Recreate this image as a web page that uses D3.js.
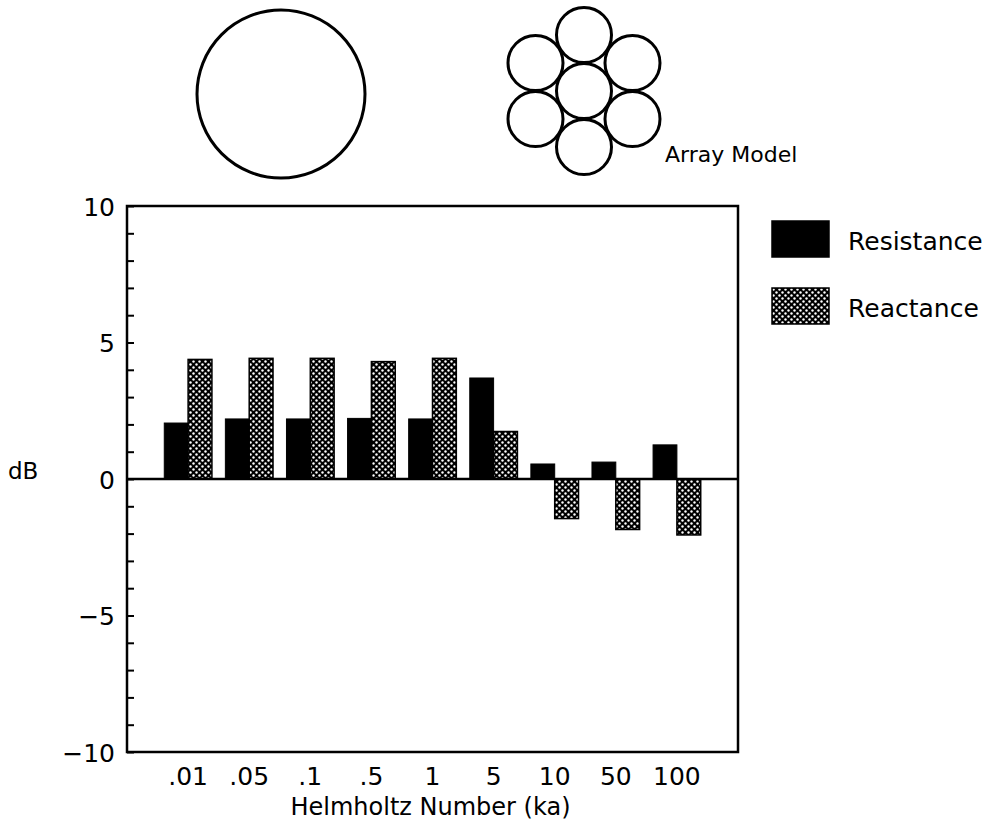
<!DOCTYPE html>
<html>
  <head>
	<meta charset="utf-8">
    <title>Helmholtz Number bar chart</title>
    <script src="https://cdn.jsdelivr.net/npm/d3@7"></script>
  	<style>
		body{ margin:0; background:#fff; }
		svg{ display:block; }
		text{ font-family:"DejaVu Sans", sans-serif; fill:#000; }
		.frame{ fill:none; stroke:#000; stroke-width:2.5px; }
		.ring{ fill:none; stroke:#000; stroke-width:3px; }
	</style>
  </head>
  <body>
    <div id="diagram"></div>
    <script>
		// data
		var categories = [".01", ".05", ".1", ".5", "1", "5", "10", "50", "100"];
		var resistance = [2.05, 2.2, 2.2, 2.22, 2.2, 3.7, 0.55, 0.62, 1.25];
		var reactance  = [4.38, 4.42, 4.42, 4.3, 4.42, 1.74, -1.45, -1.85, -2.05];
		var yLabels = [-10, -5, 0, 5, 10];
		var seriesNames = ["Resistance", "Reactance"];

		var W = 992, H = 828;
		var plot = {left:127, right:738, top:206, bottom:752};

		var svg = d3.select("#diagram").append("svg")
					.attr("width", W)
					.attr("height", H);

		// dotted fill for reactance
		var defs = svg.append("defs");
		var pat = defs.append("pattern")
			.attr("id","dots")
			.attr("patternUnits","userSpaceOnUse")
			.attr("width",6).attr("height",6);
		pat.append("rect").attr("width",6).attr("height",6).attr("fill","#000");
		pat.append("circle").attr("cx",1.5).attr("cy",1.5).attr("r",1.2).attr("fill","#fff");
		pat.append("circle").attr("cx",4.5).attr("cy",4.5).attr("r",1.2).attr("fill","#fff");

		var xScale = d3.scaleLinear().domain([0, categories.length+1]).range([plot.left, plot.right]);
		var yScale = d3.scaleLinear().domain([-10, 10]).range([plot.bottom, plot.top]);
		var bw = xScale(0.39) - xScale(0);

		// y axis, ticks every unit pointing inwards, labels every 5
		var yAxis = d3.axisLeft(yScale)
			.tickValues(d3.range(-10, 11))
			.tickSizeInner(-7).tickSizeOuter(0)
			.tickPadding(12)
			.tickFormat(function(d){ return yLabels.indexOf(d) >= 0 ? d3.format("")(d) : ""; });
		var gy = svg.append("g")
			.attr("transform","translate("+plot.left+",0)")
			.call(yAxis);
		gy.select(".domain").remove();
		gy.selectAll(".tick line").attr("stroke","#000").attr("stroke-width",2);
		gy.selectAll("text").attr("font-size",25).attr("font-family","DejaVu Sans").attr("dy","0.36em");

		// bars
		svg.selectAll(".res").data(resistance).enter().append("rect")
			.attr("class","res")
			.attr("x", function(d,i){ return xScale(i+1) - bw; })
			.attr("width", bw)
			.attr("y", function(d){ return yScale(Math.max(0,d)); })
			.attr("height", function(d){ return Math.abs(yScale(d) - yScale(0)); })
			.attr("fill","#000").attr("stroke","#000").attr("stroke-width",1);

		svg.selectAll(".rea").data(reactance).enter().append("rect")
			.attr("class","rea")
			.attr("x", function(d,i){ return xScale(i+1); })
			.attr("width", bw)
			.attr("y", function(d){ return yScale(Math.max(0,d)); })
			.attr("height", function(d){ return Math.abs(yScale(d) - yScale(0)); })
			.attr("fill","url(#dots)").attr("stroke","#000").attr("stroke-width",1.5);

		// zero line and frame
		svg.append("line")
			.attr("x1", plot.left).attr("x2", plot.right)
			.attr("y1", yScale(0)).attr("y2", yScale(0))
			.attr("stroke","#000").attr("stroke-width",2.5);
		svg.append("rect").attr("class","frame")
			.attr("x", plot.left).attr("y", plot.top)
			.attr("width", plot.right-plot.left).attr("height", plot.bottom-plot.top);

		// x labels
		svg.selectAll(".xlab").data(categories).enter().append("text")
			.attr("class","xlab")
			.attr("x", function(d,i){ return xScale(i+1); })
			.attr("y", 785)
			.attr("text-anchor","middle")
			.attr("font-size",25)
			.text(function(d){ return d; });

		svg.append("text")
			.attr("x", (plot.left+plot.right)/2 - 2).attr("y", 815)
			.attr("text-anchor","middle").attr("font-size",24)
			.text("Helmholtz Number (ka)");
		svg.append("text")
			.attr("x", 8).attr("y", 479)
			.attr("font-size",23)
			.text("dB");

		// legend
		var legend = svg.append("g").attr("transform","translate(772,221)");
		var lg = legend.selectAll("g").data(seriesNames).enter().append("g")
			.attr("transform", function(d,i){ return "translate(0,"+(i*67)+")"; });
		lg.append("rect").attr("width",57).attr("height",36)
			.attr("fill", function(d,i){ return i==0 ? "#000" : "url(#dots)"; })
			.attr("stroke","#000").attr("stroke-width",1.5);
		lg.append("text").attr("x",76).attr("y",29).attr("font-size",25)
			.text(function(d){ return d; });

		// single source and array model sketches
		svg.append("circle").attr("class","ring")
			.attr("cx",281).attr("cy",94).attr("r",84);
		var hex = [null, -90, -30, 30, 90, 150, 210];//angles of the surrounding circles
		svg.selectAll(".cell").data(hex).enter().append("circle")
			.attr("class","ring cell")
			.attr("cx", function(a){ return a===null ? 584 : 584 + 56*Math.cos(a*Math.PI/180); })
			.attr("cy", function(a){ return a===null ? 91 : 91 + 56*Math.sin(a*Math.PI/180); })
			.attr("r",27.5);
		svg.append("text")
			.attr("x",665).attr("y",162).attr("font-size",22)
			.text("Array Model");
	</script>
  </body>
</html>
